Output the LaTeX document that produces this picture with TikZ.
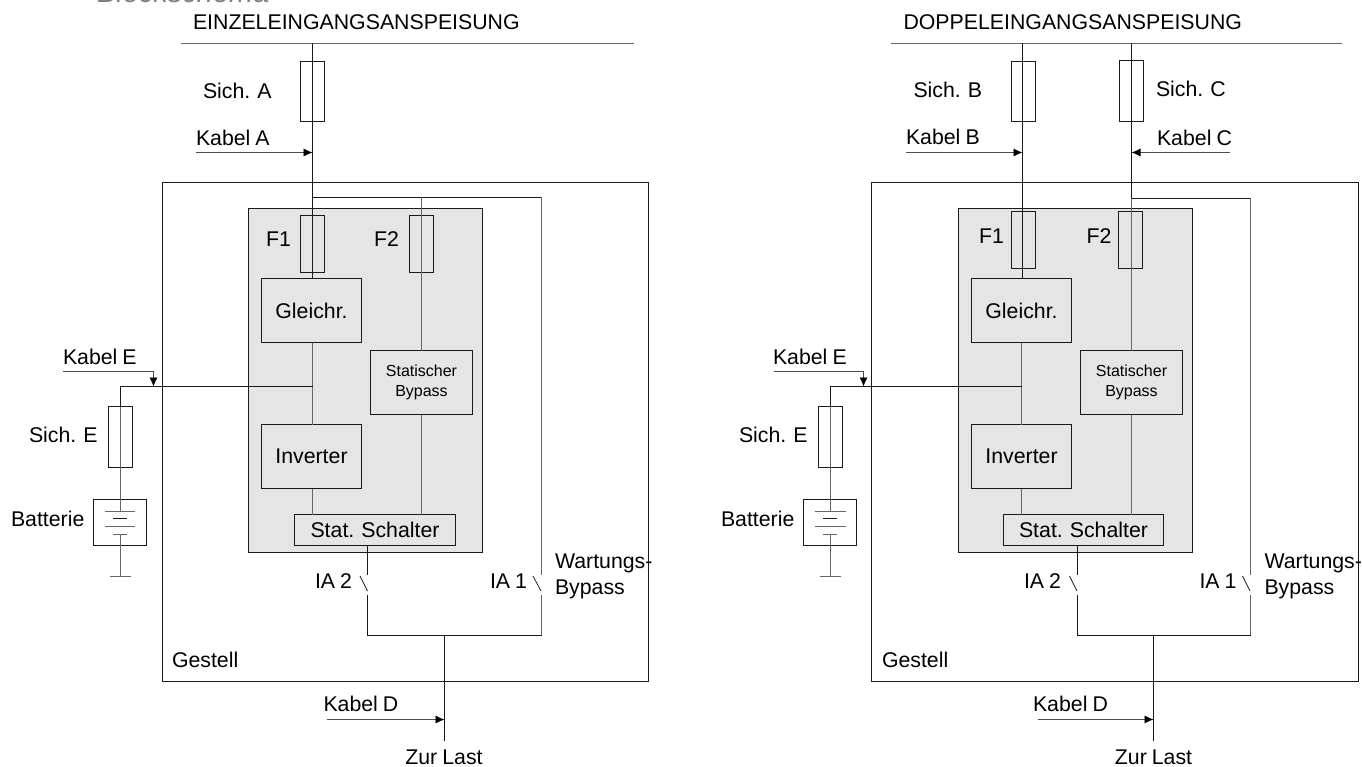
\documentclass[tikz,border=0pt]{standalone}
\usepackage{fontspec}
\setmainfont[WordSpace=0.85]{Liberation Sans}
\usetikzlibrary{arrows.meta}
\definecolor{panelgray}{HTML}{E5E5E5}
\definecolor{wire}{HTML}{1A1A1A}
\tikzset{
  wireline/.style={draw=wire,line width=0.75pt},
  greyline/.style={draw=black!60,line width=0.75pt},
  cable/.style={draw=black!70,line width=0.75pt,-{Latex[length=9pt,width=8pt,black]}},
  lbl/.style={anchor=base west,inner sep=0pt,outer sep=0pt,font=\fontsize{21.3}{21}\selectfont,text=black},
  midlbl/.style={anchor=base,inner sep=0pt,outer sep=0pt,font=\fontsize{21.3}{21}\selectfont,text=black},
  rectbox/.style={draw=wire,line width=0.75pt,inner sep=0pt,outer sep=0pt,font=\fontsize{21.3}{21}\selectfont,text=black},
  fusebox/.style={rectbox},
  panelbox/.style={rectbox,fill=panelgray},
  framebox/.style={rectbox},
}
% \rbox[style]{name}{x0}{y0}{x1}{y1}{text}
\newcommand{\rbox}[7][rectbox]{%
  \pgfmathsetmacro{\rw}{#5-#3}\pgfmathsetmacro{\rh}{#6-#4}%
  \pgfmathsetmacro{\rx}{(#3+#5)/2}\pgfmathsetmacro{\ry}{(#4+#6)/2}%
  \node[#1,minimum width=\rw pt,minimum height=\rh pt,align=center] (#2) at (\rx,\ry) {#7};%
}
\begin{document}
\begin{tikzpicture}[x=1pt,y=-1pt]
\useasboundingbox (0,0) rectangle (1362,767);
\begin{scope}
\clip (0,0) rectangle (1362,767);
\node[lbl,text=black!50,font=\itshape\fontsize{29}{29}\selectfont] (head) at (97,3) {Blockschema};
\end{scope}

%%%%% LEFT PANEL
\coordinate (Lb0) at (181,43.5); \coordinate (Lb1) at (634,43.5);
\draw[greyline] (Lb0) -- (Lb1);
\node[lbl] (Lt) at (193,29.5) {EINZELEINGANGSANSPEISUNG};
\coordinate (Lfeed) at (312.5,43);
\rbox[framebox]{Lframe}{162.5}{182.5}{648.5}{681.5}{}
\rbox[panelbox]{Lpanel}{248.5}{208.5}{482.5}{552.5}{}
\rbox[fusebox]{LfA}{300.5}{61.5}{324.5}{121.5}{}
\rbox[fusebox]{LF1}{300.5}{215.5}{324.5}{272.5}{}
\rbox[fusebox]{LF2}{409.5}{215.5}{433.5}{272.5}{}
\rbox[panelbox]{Lgl}{261.5}{278.5}{361.5}{342.5}{Gleichr.}
\rbox[panelbox]{Linv}{261.5}{424.5}{361.5}{488.5}{Inverter}
\rbox[panelbox,font=\fontsize{16}{20}\selectfont]{Lst}{370.5}{350.5}{472.5}{414.5}{Statischer\\Bypass}
\rbox[panelbox]{Lss}{294.5}{514.5}{455.5}{545.5}{Stat. Schalter}
\rbox[fusebox]{LfE}{108.5}{406.5}{132.5}{467.5}{}
\rbox[fusebox]{Lbat}{93.5}{499.5}{146.5}{545.5}{}
\coordinate (Ljoin) at (312.5,197.5);
\coordinate (Lj2) at (421.5,197.5);
\coordinate (Lby) at (541.5,197.5);
\draw[wireline] (Lfeed) -- (Lgl.north -| Lfeed);
\draw[wireline] (Ljoin) -- (Lby);
\draw[greyline] (Lj2) -- (Lst.north);
\draw[greyline] (Lst.south) -- (Lss.north -| Lst.south);
\coordinate (Lby1) at (541.5,575);
\coordinate (Lby2) at (541.5,595);
\coordinate (Lby3) at (541.5,635.5);
\draw[greyline] (Lby) -- (Lby1);
\draw[wireline] (533,576) -- (541,591);
\draw[greyline] (Lby2) -- (Lby3);
\coordinate (Lia1) at (367.5,575);
\coordinate (Lia2) at (367.5,595);
\coordinate (Lia3) at (367.5,635.5);
\draw[wireline] (Lss.south -| Lia1) -- (Lia1);
\draw[wireline] (360,576) -- (367.5,591);
\draw[wireline] (Lia2) -- (Lia3) -- (Lby3);
\coordinate (Lout0) at (444.5,635.5);
\coordinate (Lout1) at (444.5,741);
\draw[wireline] (Lout0) -- (Lout1);
\coordinate (Lmid) at (312.5,386.5);
\coordinate (Lbr) at (120.5,386.5);
\draw[greyline] (Lgl.south -| Lmid) -- (Linv.north -| Lmid);
\draw[greyline] (Linv.south -| Lmid) -- (Lss.north -| Lmid);
\draw[wireline] (Lmid) -- (Lbr) -- (LfE.north);
\coordinate (Lp1) at (120.5,511.5);
\coordinate (Lp4) at (120.5,534.5);
\coordinate (Lgnd) at (120.5,576.5);
\draw[greyline] (LfE.north) -- (Lp1);
\draw[greyline] (Lp4) -- (Lgnd);
\draw[greyline] (105,511.5) -- (135,511.5);
\draw[wireline] (113,518.5) -- (127,518.5);
\draw[greyline] (105,526.5) -- (135,526.5);
\draw[greyline] (113,534.5) -- (127,534.5);
\draw[greyline] (109.5,576.5) -- (130.5,576.5);
\coordinate (LcA) at (196,152.5); \coordinate (LcAe) at (312.5,152.5);
\draw[cable] (LcA) -- (LcAe);
\coordinate (LcD) at (327,719.5); \coordinate (LcDe) at (444.5,719.5);
\draw[cable] (LcD) -- (LcDe);
\coordinate (LcE) at (63,371.5); \coordinate (LcEm) at (153.5,371.5); \coordinate (LcEe) at (153.5,386.5);
\draw[cable] (LcE) -- (LcEm) -- (LcEe);
\node[lbl] (l1) at (203,98.5) {Sich. A};
\node[lbl] (l2) at (196,145.5) {Kabel A};
\node[lbl] (l3) at (266,246.5) {F1};
\node[lbl] (l4) at (374,246.5) {F2};
\node[lbl] (l5) at (63,364.5) {Kabel E};
\node[lbl] (l6) at (29,442.5) {Sich. E};
\node[lbl] (l7) at (11,526.5) {Batterie};
\node[lbl] (l8) at (315,588.5) {IA 2};
\node[lbl] (l9) at (490,588.5) {IA 1};
\node[lbl] (l10) at (555,568.5) {Wartungs-};
\node[lbl] (l11) at (555,594.5) {Bypass};
\node[lbl] (l12) at (172,667.5) {Gestell};
\node[lbl] (l13) at (323.5,711.5) {Kabel D};
\node[midlbl] (l14) at (444,764.5) {Zur Last};

%%%%% RIGHT PANEL
\coordinate (Rb0) at (890.5,43.5); \coordinate (Rb1) at (1342,43.5);
\draw[greyline] (Rb0) -- (Rb1);
\node[lbl] (Rt) at (903.5,29.5) {DOPPELEINGANGSANSPEISUNG};
\coordinate (Rfeed1) at (1022.5,43);
\coordinate (Rfeed2) at (1131.5,43);
\rbox[framebox]{Rframe}{871.5}{182.5}{1358.5}{681.5}{}
\rbox[panelbox]{Rpanel}{958.5}{208.5}{1192.5}{552.5}{}
\rbox[fusebox]{RfB}{1011.5}{61.5}{1035.5}{121.5}{}
\rbox[fusebox]{RfC}{1119.5}{60.5}{1143.5}{121.5}{}
\rbox[fusebox]{RF1}{1011.5}{211.5}{1035.5}{268.5}{}
\rbox[fusebox]{RF2}{1118.5}{211.5}{1142.5}{268.5}{}
\rbox[panelbox]{Rgl}{971.5}{278.5}{1071.5}{342.5}{Gleichr.}
\rbox[panelbox]{Rinv}{971.5}{424.5}{1071.5}{488.5}{Inverter}
\rbox[panelbox,font=\fontsize{16}{20}\selectfont]{Rst}{1080.5}{350.5}{1182.5}{414.5}{Statischer\\Bypass}
\rbox[panelbox]{Rss}{1003.5}{514.5}{1163.5}{545.5}{Stat. Schalter}
\rbox[fusebox]{RfE}{818.5}{406.5}{842.5}{467.5}{}
\rbox[fusebox]{Rbat}{803.5}{499.5}{856.5}{545.5}{}
\coordinate (Rglt) at (1022.5,278.5);
\coordinate (Rjoin) at (1131.5,198.5);
\coordinate (Rby) at (1250.5,198.5);
\draw[wireline] (Rfeed1) -- (Rglt);
\draw[wireline] (Rfeed2) -- (Rjoin);
\draw[greyline] (Rjoin) -- (Rst.north -| Rjoin);
\draw[wireline] (Rjoin) -- (Rby);
\draw[greyline] (Rst.south -| Rjoin) -- (Rss.north -| Rjoin);
\coordinate (Rby1) at (1250.5,575);
\coordinate (Rby2) at (1250.5,595);
\coordinate (Rby3) at (1250.5,635.5);
\draw[greyline] (Rby) -- (Rby1);
\draw[wireline] (1242.5,576) -- (1250,591);
\draw[greyline] (Rby2) -- (Rby3);
\coordinate (Ria1) at (1077.5,575);
\coordinate (Ria2) at (1077.5,595);
\coordinate (Ria3) at (1077.5,635.5);
\draw[wireline] (Rss.south -| Ria1) -- (Ria1);
\draw[wireline] (1069.5,576) -- (1077,591);
\draw[wireline] (Ria2) -- (Ria3) -- (Rby3);
\coordinate (Rout0) at (1153.5,635.5);
\coordinate (Rout1) at (1153.5,741);
\draw[wireline] (Rout0) -- (Rout1);
\coordinate (Rmid) at (1021.5,386.5);
\coordinate (Rbr) at (830.5,386.5);
\draw[greyline] (Rgl.south) -- (Rinv.north);
\draw[greyline] (Rinv.south) -- (Rss.north -| Rinv.south);
\draw[wireline] (Rmid) -- (Rbr) -- (RfE.north);
\coordinate (Rp1) at (830.5,511.5);
\coordinate (Rp4) at (830.5,534.5);
\coordinate (Rgnd) at (830.5,576.5);
\draw[greyline] (RfE.north) -- (Rp1);
\draw[greyline] (Rp4) -- (Rgnd);
\draw[greyline] (814.5,511.5) -- (845.5,511.5);
\draw[wireline] (823,518.5) -- (837,518.5);
\draw[greyline] (814.5,526.5) -- (845.5,526.5);
\draw[greyline] (823,534.5) -- (837,534.5);
\draw[greyline] (819.5,576.5) -- (840.5,576.5);
\coordinate (RcB) at (906,152.5); \coordinate (RcBe) at (1022.5,152.5);
\draw[cable] (RcB) -- (RcBe);
\coordinate (RcC) at (1230,152.5); \coordinate (RcCe) at (1131.5,152.5);
\draw[cable] (RcC) -- (RcCe);
\coordinate (RcD) at (1037.5,719.5); \coordinate (RcDe) at (1153.5,719.5);
\draw[cable] (RcD) -- (RcDe);
\coordinate (RcE) at (773.5,371.5); \coordinate (RcEm) at (863.5,371.5); \coordinate (RcEe) at (863.5,386.5);
\draw[cable] (RcE) -- (RcEm) -- (RcEe);
\node[lbl] (r1) at (913.5,97.5) {Sich. B};
\node[lbl] (r1c) at (1156,97) {Sich. C};
\node[lbl] (r2) at (906,144.5) {Kabel B};
\node[lbl] (r2c) at (1157,145.5) {Kabel C};
\node[lbl] (r3) at (979,243.5) {F1};
\node[lbl] (r4) at (1086.5,243.5) {F2};
\node[lbl] (r5) at (773,364.5) {Kabel E};
\node[lbl] (r6) at (739,442.5) {Sich. E};
\node[lbl] (r7) at (721,526.5) {Batterie};
\node[lbl] (r8) at (1024,588.5) {IA 2};
\node[lbl] (r9) at (1199.5,588.5) {IA 1};
\node[lbl] (r10) at (1264.5,568.5) {Wartungs-};
\node[lbl] (r11) at (1264.5,594.5) {Bypass};
\node[lbl] (r12) at (882,667.5) {Gestell};
\node[lbl] (r13) at (1033,711.5) {Kabel D};
\node[midlbl] (r14) at (1153.5,764.5) {Zur Last};
\end{tikzpicture}
\end{document}
